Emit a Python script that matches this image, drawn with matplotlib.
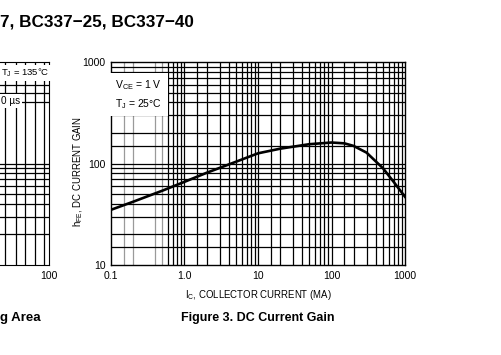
import matplotlib
matplotlib.use("Agg")
from matplotlib import pyplot as plt
from matplotlib import font_manager
import numpy as np

# DC current gain curve
ic_ma = [0.1, 0.2, 0.5, 1.0, 2.0, 5.0, 10, 20, 50, 100, 150, 200, 300, 500, 700, 1000]
hfe = [35, 42, 54, 66, 81, 104, 126, 140, 155, 161, 158, 149, 128, 90, 66, 47]

x_ticks = [0.1, 1.0, 10, 100, 1000]
x_tick_labels = ["0.1", "1.0", "10", "100", "1000"]
y_ticks = [10, 100, 1000]
y_tick_labels = ["10", "100", "1000"]
minor_mult = [1.5, 2, 3, 4, 5, 6, 7, 8, 9]

# pick a narrow face if it is there
names = {f.name for f in font_manager.fontManager.ttflist}
narrow = "Liberation Sans Narrow" if "Liberation Sans Narrow" in names else "Liberation Sans"
plt.rcParams["font.family"] = [narrow, "DejaVu Sans"]
plt.rcParams["mathtext.fontset"] = "custom"
plt.rcParams["mathtext.rm"] = narrow
plt.rcParams["mathtext.it"] = narrow

fig = plt.figure(figsize=(5.02, 3.55), dpi=100)

# --- main chart: Figure 3 ---
ax = fig.add_axes([0.2211, 0.2535, 0.5857, 0.5718])
ax.set_xscale("log")
ax.set_yscale("log")
ax.set_xlim(0.1, 1000)
ax.set_ylim(10, 1000)

gray_x = [0.15, 0.2, 0.4, 0.5]
for dec in [0.1, 1, 10, 100]:
    for m in minor_mult:
        v = dec * m
        if np.isclose(v, 0.3):
            continue
        c = "#9a9a9a" if any(np.isclose(v, g) for g in gray_x) else "black"
        ax.axvline(v, color=c, lw=0.9, zorder=1)
    if dec > 0.1:
        ax.axvline(dec, color="black", lw=0.9, zorder=1)
for dec in [10, 100]:
    for m in minor_mult:
        ax.axhline(dec * m, color="black", lw=0.9, zorder=1)
ax.axhline(100, color="black", lw=0.9, zorder=1)

ax.plot(ic_ma, hfe, color="black", lw=1.9, zorder=3)

ax.set_xticks(x_ticks)
ax.set_xticklabels(x_tick_labels)
ax.set_yticks(y_ticks)
ax.set_yticklabels(y_tick_labels)
ax.minorticks_off()
ax.tick_params(length=0, labelsize=7.5, pad=4)
for s in ax.spines.values():
    s.set_linewidth(1.0)

ax.set_xlabel(r"I$_{\mathrm{C}}$, COLLECTOR CURRENT (MA)", fontsize=6.9, labelpad=5)
ax.set_ylabel(r"h$_{\mathrm{FE}}$, DC CURRENT GAIN", fontsize=6.9)
ax.yaxis.set_label_coords(-0.088, 0.46)

ax.text(0.1 * 1.15, 480, "V$_{\\mathrm{CE}}$ = 1 V\nT$_{\\mathrm{J}}$ = 25°C", fontsize=7.5,
        va="center", ha="left", linespacing=1.5, zorder=4,
        bbox=dict(facecolor="white", edgecolor="none", pad=4))

# --- neighbouring chart (cut off on the left) ---
ax2 = fig.add_axes([-0.340, 0.2535, 0.438, 0.5718])
ax2.set_xscale("log")
ax2.set_yscale("log")
ax2.set_xlim(1, 100)
ax2.set_ylim(10, 1000)
for v in [40, 50, 60, 75, 90]:
    ax2.axvline(v, color="black", lw=0.9)
for v in [20, 30, 40, 50, 60, 70, 80, 90, 100, 400, 500, 600]:
    ax2.axhline(v, color="black", lw=0.9)
ax2.set_xticks([100])
ax2.set_xticklabels(["100"])
ax2.set_yticks([])
ax2.minorticks_off()
ax2.tick_params(length=0, labelsize=7.5, pad=4)
fig.text(1 / 502, 1 - 73 / 355, "T$_{\\mathrm{J}}$ = 135°C", fontsize=6.8, ha="left", va="center",
         bbox=dict(facecolor="white", edgecolor="none", pad=1.5))
fig.text(1 / 502, 1 - 101 / 355, "0 µs", fontsize=7.2, ha="left", va="center",
         bbox=dict(facecolor="white", edgecolor="none", pad=1.5))

# titles and captions
fig.text(0.0, 1 - 22 / 355, "7, BC337\u221225, BC337\u221240", fontsize=12.3, fontweight="bold",
         family="Liberation Sans", ha="left", va="center")
fig.text(258 / 502, 1 - 318 / 355, "Figure 3. DC Current Gain", fontsize=9, fontweight="bold",
         family="Liberation Sans", ha="center", va="center")
fig.text(0.0, 1 - 318 / 355, "g Area", fontsize=9.5, fontweight="bold",
         family="Liberation Sans", ha="left", va="center")

fig.savefig("out.png", dpi=100)
